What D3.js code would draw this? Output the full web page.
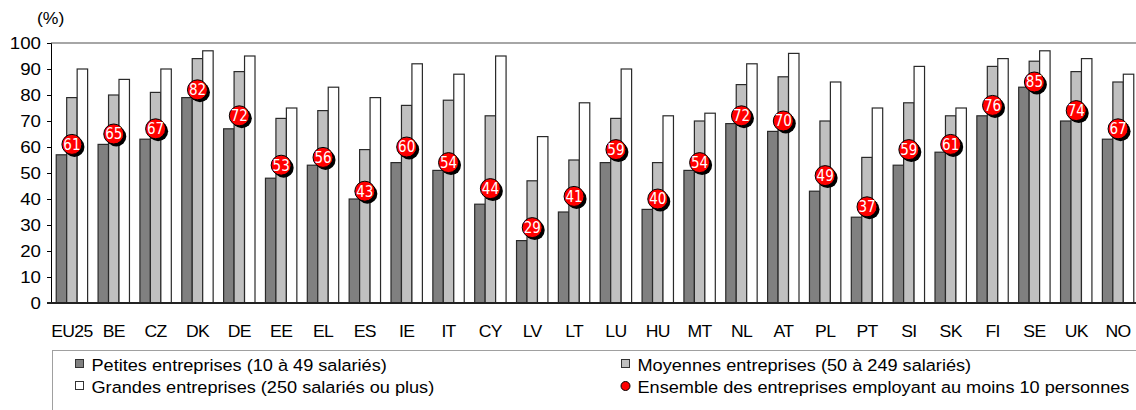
<!DOCTYPE html>
<html>
<head>
<meta charset="utf-8">
<script src="https://cdn.jsdelivr.net/npm/d3@7"></script>
<style>
  body { margin: 0; background: #fff; }
  svg { display: block; font-family: "Liberation Sans", Arial, sans-serif; }
</style>
</head>
<body>
<div id="chart"></div>
<script>
// data
const countries = ["EU25","BE","CZ","DK","DE","EE","EL","ES","IE","IT","CY","LV","LT","LU","HU","MT","NL","AT","PL","PT","SI","SK","FI","SE","UK","NO"];
const petites  = [57,61,63,79,67,48,53,40,54,51,38,24,35,54,36,51,69,66,43,33,53,58,72,83,70,63];
const moyennes = [79,80,81,94,89,71,74,59,76,78,72,47,55,71,54,70,84,87,70,56,77,72,91,93,89,85];
const grandes  = [90,86,90,97,95,75,83,79,92,88,95,64,77,90,72,73,92,96,85,75,91,75,94,97,94,88];
const ensemble = [61,65,67,82,72,53,56,43,60,54,44,29,41,59,40,54,72,70,49,37,59,61,76,85,74,67];
const yTicks = [0,10,20,30,40,50,60,70,80,90,100];

const seriesNames = ["Petites entreprises (10 à 49 salariés)", "Moyennes entreprises (50 à 249 salariés)",
                     "Grandes entreprises (250 salariés ou plus)", "Ensemble des entreprises employant au moins 10 personnes"];
const fills = ["#808080", "#c0c0c0", "#ffffff"];

const W = 1136, H = 410;
const mLeft = 51, mRight = 1139, mTop = 43, mBottom = 303;
const stretch = 1.1; // the picture's text is a bit wide

const svg = d3.select("#chart").append("svg").attr("width", W).attr("height", H);

function wideText(g, tx, ty, size, anchor) {
    return g.append("text")
        .attr("transform", "translate(" + tx + "," + ty + ") scale(" + stretch + ",1)")
        .attr("font-size", size)
        .attr("text-anchor", anchor || "start");
}

const x = d3.scaleBand().domain(countries).range([mLeft, mRight]).paddingInner(0.25).paddingOuter(0.125);
const x1 = d3.scaleBand().domain([0, 1, 2]).range([0, x.bandwidth()]);
const y = d3.scaleLinear().domain([0, 100]).range([mBottom, mTop]);

// top gridline at 100
svg.append("line")
    .attr("x1", mLeft).attr("x2", W)
    .attr("y1", y(100)).attr("y2", y(100))
    .attr("stroke", "#a6a6a6").attr("stroke-width", 2);

// y axis
const yAxis = svg.append("g")
    .attr("transform", "translate(" + mLeft + ",0)")
    .call(d3.axisLeft(y).tickValues(yTicks).tickSize(4).tickFormat(""));
yAxis.select(".domain").attr("stroke", "#000");
yAxis.selectAll(".tick line").attr("stroke", "#000");
yTicks.forEach(t => {
    wideText(svg, 41, y(t) + 6, 17, "end").text(t);
});

wideText(svg, 37, 24, 16).text("(%)");

// bars
const rows = countries.map((c, i) => ({ c: c, vals: [petites[i], moyennes[i], grandes[i]] }));
const groups = svg.selectAll("g.grp").data(rows).enter().append("g")
    .attr("class", "grp")
    .attr("transform", d => "translate(" + x(d.c) + ",0)");
groups.selectAll("rect").data(d => d.vals).enter().append("rect")
    .attr("x", (d, j) => x1(j))
    .attr("y", d => y(d))
    .attr("width", x1.bandwidth())
    .attr("height", d => y(0) - y(d))
    .attr("fill", (d, j) => fills[j])
    .attr("stroke", "#2a2a2a")
    .attr("stroke-width", 1.2);

// x axis baseline
svg.append("line").attr("x1", mLeft - 4).attr("x2", W)
    .attr("y1", mBottom).attr("y2", mBottom)
    .attr("stroke", "#222").attr("stroke-width", 2);

// x labels
countries.forEach(c => {
    wideText(svg, x(c) + x.bandwidth() / 2, 337, 16, "middle")
        .attr("letter-spacing", -0.6).text(c);
});

// markers
const mk = svg.selectAll("g.mk").data(countries).enter().append("g")
    .attr("class", "mk")
    .attr("transform", (d, i) => "translate(" + (x(d) + x.bandwidth() / 2) + "," + y(ensemble[i]) + ")");
mk.append("circle").attr("cx", 2.5).attr("cy", 2.5).attr("r", 10).attr("fill", "#000");
mk.append("circle").attr("r", 10).attr("fill", "#ff0000").attr("stroke", "#000").attr("stroke-width", 1);
mk.append("text")
    .attr("text-anchor", "middle")
    .attr("dy", "0.36em")
    .attr("fill", "#fff")
    .attr("font-size", 15)
    .attr("font-family", "Liberation Sans Narrow, DejaVu Sans Condensed, sans-serif")
    .text((d, i) => ensemble[i]);

// legend
svg.append("rect").attr("x", 52.5).attr("y", 350.5).attr("width", 1100).attr("height", 80)
    .attr("fill", "none").attr("stroke", "#a0a0a0").attr("stroke-width", 1);

const legPos = [[75, 364], [621, 364], [75, 386], [621, 386]];
seriesNames.forEach((name, i) => {
    const [lx, ly] = legPos[i];
    if (i < 3) {
        svg.append("rect").attr("x", lx + 0.5).attr("y", ly - 4.5).attr("width", 8).attr("height", 8)
            .attr("fill", fills[i]).attr("stroke", "#333");
    } else {
        svg.append("circle").attr("cx", lx + 4.5).attr("cy", ly).attr("r", 4.5)
            .attr("fill", "#ff0000").attr("stroke", "#000");
    }
    wideText(svg, lx + 16.5, ly + 6.5, 16.5).text(name);
});
</script>
</body>
</html>
